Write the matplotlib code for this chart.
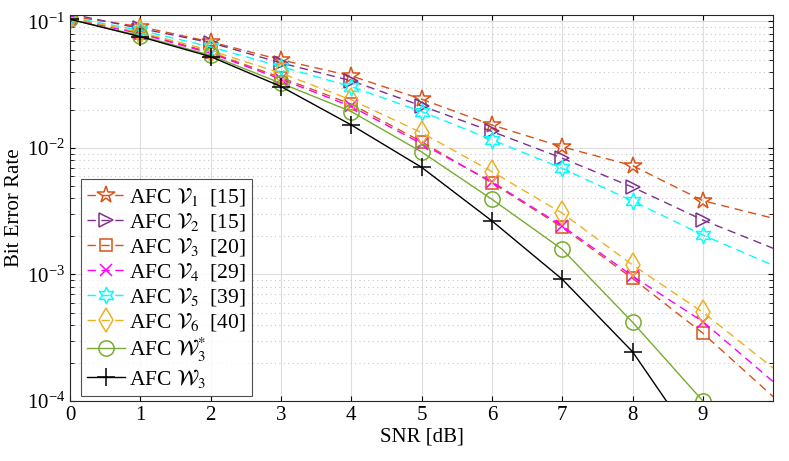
import matplotlib.pyplot as plt
import numpy as np

# datos
snr = [0, 1, 2, 3, 4, 5, 6, 7, 8, 9, 10]

ber_v1 = [0.110, 0.091, 0.069, 0.0497, 0.0371, 0.0243, 0.0152, 0.0102, 0.00725, 0.00383, 0.00278]
ber_v2 = [0.115, 0.088, 0.068, 0.047, 0.034, 0.0215, 0.0135, 0.0083, 0.0049, 0.00269, 0.00161]
ber_v3 = [0.106, 0.081, 0.057, 0.036, 0.0222, 0.0112, 0.0053, 0.00236, 0.00093, 0.000343, 0.000108]
ber_v4 = [0.105, 0.080, 0.056, 0.035, 0.0213, 0.0108, 0.0054, 0.00242, 0.00097, 0.000424, 0.000142]
ber_v5 = [0.108, 0.085, 0.063, 0.044, 0.0305, 0.0194, 0.0116, 0.0069, 0.0038, 0.00205, 0.00118]
ber_v6 = [0.107, 0.082, 0.059, 0.039, 0.0240, 0.0132, 0.0065, 0.00305, 0.00119, 0.000502, 0.000182]
ber_w3s = [0.104, 0.077, 0.054, 0.0325, 0.0194, 0.0093, 0.00393, 0.00158, 0.000419, 0.000100, 0.000022]
ber_w3 = [0.104, 0.0758, 0.0527, 0.0306, 0.0152, 0.00703, 0.00265, 0.000916, 0.000245, 0.000038, 0.000006]

etiquetas = [r'AFC $\mathcal{V}_1$  [15]', r'AFC $\mathcal{V}_2$  [15]', r'AFC $\mathcal{V}_3$  [20]',
             r'AFC $\mathcal{V}_4$  [29]', r'AFC $\mathcal{V}_5$  [39]', r'AFC $\mathcal{V}_6$  [40]',
             r'AFC $\mathcal{W}_3^{*}$', r'AFC $\mathcal{W}_3$']

plt.rcParams['font.family'] = ['Liberation Serif', 'DejaVu Serif']
plt.rcParams['mathtext.fontset'] = 'stix'

fig = plt.figure(figsize=(7.89, 4.61), dpi=100)
ax = fig.add_axes([0.0887, 0.1302, 0.8913, 0.8373])

# hexagrama (estrella de 6 puntas) como en matlab
series = [
    (ber_v1, '#D95319', '*', '--', 13),
    (ber_v2, '#7E2F8E', '>', '--', 10),
    (ber_v3, '#D95319', 's', '--', 9),
    (ber_v4, '#FF00FF', 'x', '--', 8),
    (ber_v5, '#00FFFF', (6, 1, 0), '--', 12),
    (ber_v6, '#EDB120', 'd', '--', 12),
    (ber_w3s, '#77AC30', 'o', '-', 11),
    (ber_w3, 'black', '+', '-', 13),
]

for (datos, color, marca, estilo, ms), etq in zip(series, etiquetas):
    ax.plot(snr, datos, linestyle=estilo, color=color, marker=marca, ms=ms,
            mfc='none', mec=color, mew=1.1, lw=1.0, markevery=slice(0, 10),
            dashes=(6, 4) if estilo == '--' else (None, None), label=etq)

ax.set_yscale('log')
ax.set_xlim(0, 10)
ax.set_ylim(1e-4, 0.1125)
ax.set_xticks(range(10))
ax.grid(True, which='major', color='#DDDDDD', lw=0.8)
ax.grid(True, which='minor', axis='y', color='#C8C8C8', ls=(0, (1, 3)), lw=0.8)
ax.tick_params(which='both', direction='in', top=True, right=True, labelsize=15)
ax.tick_params(which='minor', length=3)
for s in ax.spines.values():
    s.set_color('#262626')

ax.set_xlabel('SNR [dB]', fontsize=15, labelpad=2)
ax.set_ylabel('Bit Error Rate', fontsize=15, labelpad=2)

leg = ax.legend(loc='lower left', bbox_to_anchor=(0.015, 0.012), fontsize=15.5, frameon=True,
                fancybox=False, edgecolor='#262626', handlelength=1.75, handletextpad=0.2,
                labelspacing=0.14, borderpad=0.3, borderaxespad=0)
leg.get_frame().set_linewidth(0.8)

plt.savefig('out.png', dpi=100)
